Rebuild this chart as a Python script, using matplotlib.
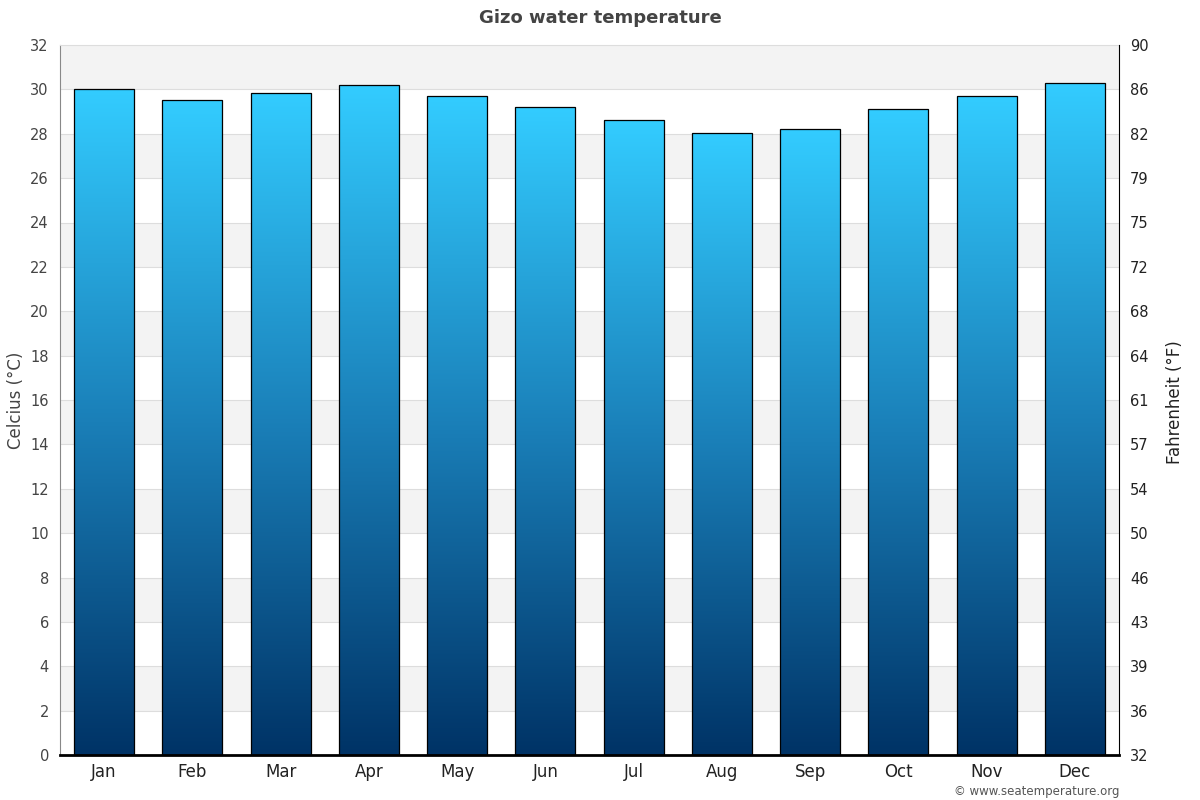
import os
import matplotlib
matplotlib.use("Agg")
import matplotlib.pyplot as plt
from matplotlib import font_manager
import numpy as np
from matplotlib.colors import LinearSegmentedColormap

months = ["Jan", "Feb", "Mar", "Apr", "May", "Jun", "Jul", "Aug", "Sep", "Oct", "Nov", "Dec"]
temps_c = [30.0, 29.5, 29.85, 30.2, 29.7, 29.2, 28.6, 28.05, 28.2, 29.1, 29.7, 30.3]
yticks_c = list(range(0, 33, 2))

fam = 'DejaVu Sans'
for fn in ["DejaVuSans.ttf", "DejaVuSans-Bold.ttf"]:
    p = os.path.join(matplotlib.get_data_path(), "fonts", "ttf", fn)
    if os.path.exists(p):
        font_manager.fontManager.addfont(p)
plt.rcParams['font.family'] = [fam]

fig = plt.figure(figsize=(12, 8), dpi=100)
ax = fig.add_axes([60/1200, 45/800, 1059/1200, 710/800])

ax.set_xlim(-0.5, 11.5)
ax.set_ylim(0, 32)

for k in range(0, 32, 4):
    ax.axhspan(k + 2, k + 4, color="#f3f3f3", zorder=0, lw=0)
for t in yticks_c[1:-1]:
    ax.axhline(t, color="#dddddd", lw=0.8, zorder=0.5)

cmap = LinearSegmentedColormap.from_list("sea", ["#003366", "#1a7fb8", "#33ccff"])
grad = np.linspace(0, 1, 256).reshape(-1, 1)
w = 0.68
for i, v in enumerate(temps_c):
    im = ax.imshow(grad, cmap=cmap, origin="lower", aspect="auto",
                   extent=(i - w/2, i + w/2, 0, v), zorder=2, interpolation="bilinear")
    rect = plt.Rectangle((i - w/2, 0), w, v, fill=False, ec="black", lw=0.9, zorder=3)
    ax.add_patch(rect)
    im.set_clip_path(rect)

ax.set_xticks(range(12))
ax.set_xticklabels(months, fontsize=12, color="#222222")
ax.set_yticks(yticks_c)
ax.set_yticklabels([str(t) for t in yticks_c], fontsize=10.5, color="#444444")
ax.tick_params(axis="x", length=0, pad=6)
ax.tick_params(axis="y", length=0, pad=8)

ax.spines["top"].set_color("#dddddd")
ax.spines["top"].set_linewidth(0.8)
ax.spines["left"].set_color("#888888")
ax.spines["right"].set_visible(False)
ax.spines["bottom"].set_color("black")
ax.spines["bottom"].set_linewidth(2)

ax2 = ax.twinx()
ax2.set_ylim(0, 32)
ax2.set_yticks(yticks_c)
ax2.set_yticklabels([str(int(round(t * 9 / 5 + 32))) for t in yticks_c], fontsize=10.5, color="#222222")
ax2.tick_params(axis="y", length=0, pad=8)
ax2.spines["right"].set_color("black")
for s in ["top", "left", "bottom"]:
    ax2.spines[s].set_visible(False)

fig.text(16/1200, 1 - 400/800, "Celcius (°C)", rotation=90, ha="center", va="center",
         fontsize=12, color="#444444")
fig.text(1175/1200, 1 - 402/800, "Fahrenheit (°F)", rotation=90, ha="center", va="center",
         fontsize=12, color="#222222")
fig.text(0.5, 1 - 18/800, "Gizo water temperature", ha="center", va="center",
         fontsize=13, fontweight="bold", color="#444444")
fig.text(1119/1200, 1 - 792/800, "© www.seatemperature.org", ha="right", va="center",
         fontsize=8.5, color="#555555")

fig.savefig("out.png", dpi=100)
